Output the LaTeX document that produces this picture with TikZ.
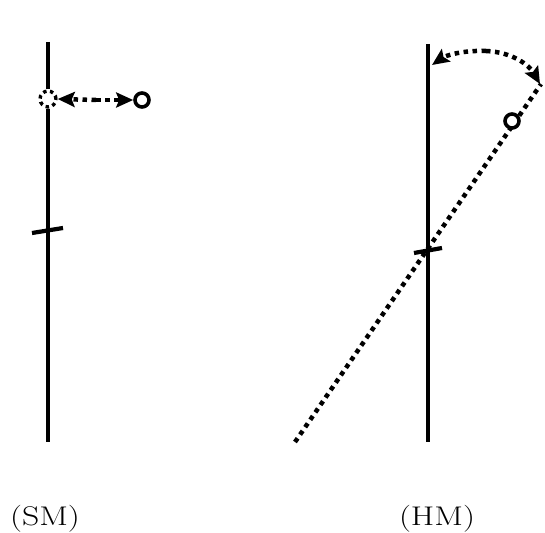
\documentclass[tikz,border=0pt]{standalone}
\usepackage{fontspec}
\usetikzlibrary{arrows.meta}
\begin{document}
\begin{tikzpicture}[x=1pt,y=-1pt,
  axisline/.style={line width=4.2pt},
  dotline/.style={line width=4.5pt,dash pattern=on 4.5pt off 4.5pt},
  tickline/.style={line width=4.2pt},
  ring/.style={circle,draw,line width=3.6pt,minimum size=14pt,inner sep=0pt},
  dotring/.style={circle,draw,line width=3.4pt,dash pattern=on 3.5pt off 3.5pt,minimum size=16pt,inner sep=0pt},
  tip/.style={-{Stealth[length=17pt,width=15pt,inset=3pt]}},
  lbl/.style={font=\fontsize{27}{32}\selectfont,inner sep=0pt,anchor=base,xscale=1.25}]
\useasboundingbox (0,0) rectangle (545,532);
% left (SM)
\coordinate (l1) at (48,42);
\coordinate (l2) at (48,442);
\node[dotring] (dc) at (48,99) {};
\draw[axisline] (l1) -- (dc.north);
\draw[axisline] (dc.south) -- (l2);
\coordinate (t1) at (32,233);
\coordinate (t2) at (63,228);
\draw[tickline] (t1) -- (t2);
\node[ring] (o1) at (142,100) {};
\draw[dotline,tip] (96,100) -- (dc.east);
\draw[dotline,tip] (96,100) -- (o1.west);
\node[lbl] (sm) at (45,525) {(SM)};
% right (HM)
\coordinate (r1) at (428,44);
\coordinate (r2) at (428,442);
\draw[axisline] (r1) -- (r2);
\coordinate (t3) at (414,253);
\coordinate (t4) at (442,248);
\draw[tickline] (t3) -- (t4);
\coordinate (d1) at (295,442);
\coordinate (d2) at (541,84);
\draw[dotline] (d1) -- (d2);
\node[ring,fill=white] (o2) at (512,121) {};
\coordinate (a1) at (432,65);
\coordinate (a2) at (540,84);
\coordinate (am) at (486,51);
\draw[dotline,tip] (am) .. controls (512,52) and (529,65) .. (a2);
\draw[dotline,tip] (am) .. controls (462,50) and (445,56) .. (a1);
\node[lbl] (hm) at (437,525) {(HM)};
\end{tikzpicture}
\end{document}
